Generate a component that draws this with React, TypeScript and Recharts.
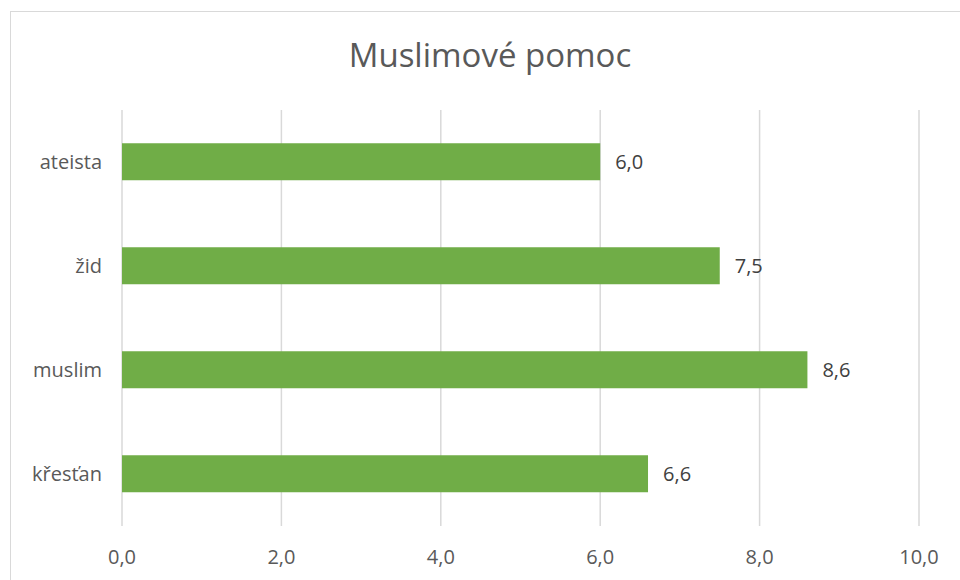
import { BarChart, Bar, XAxis, YAxis, CartesianGrid, LabelList } from 'recharts'

const categories = ['ateista', 'žid', 'muslim', 'křesťan']
const values = [6.0, 7.5, 8.6, 6.6]
const xTicks = [0, 2, 4, 6, 8, 10]

const data = categories.map((name, i) => ({ name, value: values[i] }))

const fmt = (v: any) => Number(v).toFixed(1).replace('.', ',')
const font = '"Open Sans", "Noto Sans", sans-serif'

const App = () => {
    return (
        <div style={{ position: 'absolute', left: 0, top: 0, width: 960, height: 580, background: '#fff', fontFamily: font }}>
            <div style={{ position: 'absolute', left: 10, top: 11, width: 960, height: 580, border: '1px solid #d9d9d9', boxSizing: 'border-box' }} />
            <div style={{ position: 'absolute', left: 10, width: 960, top: 33, textAlign: 'center', fontSize: 33, color: '#595959', lineHeight: '44px' }}>
                Muslimové pomoc
            </div>
            <BarChart
                width={960}
                height={580}
                layout="vertical"
                data={data}
                margin={{ top: 110, right: 41, left: 12, bottom: 0 }}
                barCategoryGap="32%"
                style={{ position: 'absolute', left: 0, top: 0 }}
            >
                <CartesianGrid horizontal={false} stroke="#d9d9d9" strokeWidth={1.5} />
                <XAxis
                    type="number"
                    domain={[0, 10]}
                    ticks={xTicks}
                    tickFormatter={fmt}
                    axisLine={false}
                    tickLine={false}
                    height={54}
                    tick={{ fill: '#595959', fontSize: 20, fontFamily: font, dy: 16 }}
                />
                <YAxis
                    type="category"
                    dataKey="name"
                    width={110}
                    axisLine={false}
                    tickLine={false}
                    tick={{ fill: '#595959', fontSize: 20, fontFamily: font, dx: -12 }}
                />
                <Bar dataKey="value" fill="#70ad47" isAnimationActive={false}>
                    <LabelList dataKey="value" position="right" offset={15} formatter={fmt} fill="#404040" fontSize={20} fontFamily={font} />
                </Bar>
            </BarChart>
        </div>
    )
}

export default App
